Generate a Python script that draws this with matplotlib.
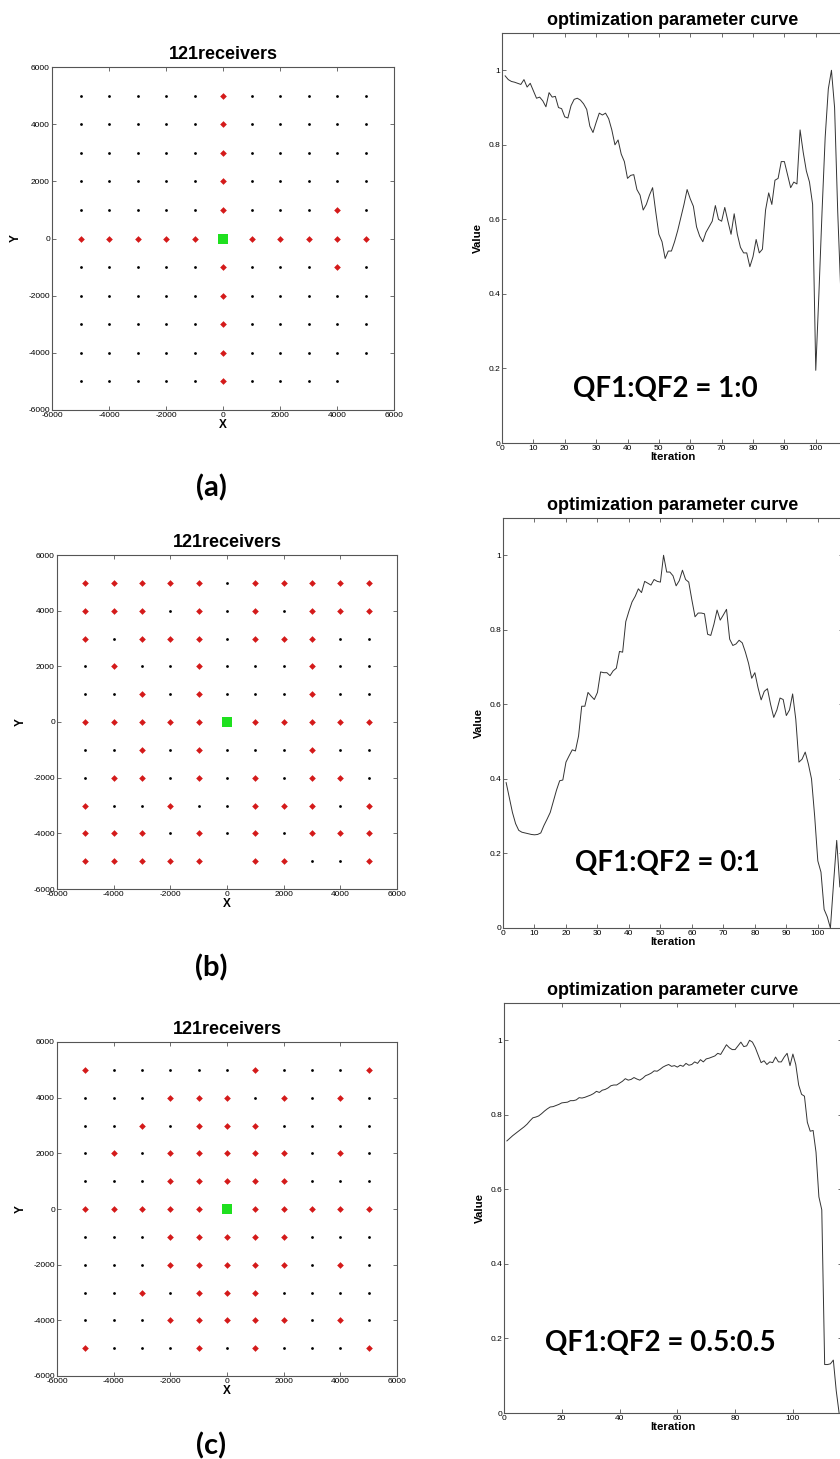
import matplotlib
matplotlib.use("Agg")
import matplotlib.pyplot as plt
import numpy as np

# ---------------- data ----------------
grid_coords = [-5000, -4000, -3000, -2000, -1000, 0, 1000, 2000, 3000, 4000, 5000]
# rows from y=5000 (top) to y=-5000 (bottom); r=selected (red), k=unselected, g=source, .=none
rows_a = ["kkkkkrkkkkk", "kkkkkrkkkkk", "kkkkkrkkkkk", "kkkkkrkkkkk", "kkkkkrkkkrk",
          "rrrrrgrrrrr", "kkkkkrkkkrk", "kkkkkrkkkkk", "kkkkkrkkkkk", "kkkkkrkkkkk",
          "kkkkkrkkkk."]
rows_b = ["rrrrrkrrrrr", "rrrkrkrkrrr", "rkrrrkrrrkk", "krkkrkkkrkk", "kkrkrkkkrkk",
          "rrrrrgrrrrr", "kkrkrkkkrkk", "krrkrkrkrrk", "rkkrkkrrrkr", "rrrkrkrkrrr",
          "rrrrr.rrkkr"]
rows_c = ["rkkkkkrkkkr", "kkkrrrkrkrk", "kkrkrrrkkkk", "krkrrrrrkrk", "kkkrrrrrkkk",
          "rrrrrgrrrrr", "kkkrrrrrkkk", "kkkrrrrrkrk", "kkrkrrrkkkk", "kkkrrrrrkrk",
          "rkkkrkrkkkr"]

curve_a = [0.985, 0.975, 0.970, 0.968, 0.965, 0.962, 0.975, 0.955, 0.965, 0.945,
           0.925, 0.928, 0.918, 0.902, 0.940, 0.928, 0.930, 0.900, 0.897, 0.875,
           0.872, 0.905, 0.922, 0.925, 0.920, 0.910, 0.895, 0.850, 0.833, 0.860,
           0.885, 0.880, 0.885, 0.870, 0.840, 0.800, 0.813, 0.775, 0.755, 0.710,
           0.718, 0.720, 0.680, 0.665, 0.625, 0.640, 0.665, 0.685, 0.620, 0.560,
           0.540, 0.495, 0.515, 0.515, 0.540, 0.570, 0.605, 0.640, 0.680, 0.655,
           0.635, 0.580, 0.555, 0.540, 0.565, 0.580, 0.595, 0.637, 0.600, 0.595,
           0.632, 0.595, 0.560, 0.615, 0.560, 0.525, 0.510, 0.510, 0.473, 0.500,
           0.546, 0.510, 0.520, 0.625, 0.671, 0.640, 0.705, 0.710, 0.755, 0.755,
           0.720, 0.685, 0.700, 0.695, 0.840, 0.780, 0.730, 0.700, 0.640, 0.195,
           0.400, 0.620, 0.820, 0.950, 1.000, 0.900, 0.620, 0.400, 0.250]
curve_b = [0.390, 0.350, 0.310, 0.280, 0.262, 0.257, 0.255, 0.253, 0.251, 0.250,
           0.251, 0.255, 0.275, 0.292, 0.310, 0.340, 0.370, 0.395, 0.397, 0.445,
           0.462, 0.478, 0.475, 0.515, 0.595, 0.595, 0.632, 0.622, 0.613, 0.632,
           0.687, 0.685, 0.685, 0.677, 0.690, 0.697, 0.742, 0.740, 0.822, 0.850,
           0.875, 0.890, 0.910, 0.900, 0.930, 0.925, 0.920, 0.935, 0.930, 0.928,
           1.000, 0.955, 0.955, 0.945, 0.918, 0.932, 0.960, 0.935, 0.928, 0.880,
           0.835, 0.845, 0.845, 0.843, 0.788, 0.785, 0.815, 0.853, 0.826, 0.840,
           0.855, 0.775, 0.758, 0.762, 0.772, 0.765, 0.740, 0.710, 0.670, 0.685,
           0.645, 0.612, 0.635, 0.642, 0.600, 0.565, 0.585, 0.617, 0.613, 0.570,
           0.585, 0.628, 0.560, 0.445, 0.453, 0.472, 0.440, 0.400, 0.300, 0.180,
           0.150, 0.050, 0.030, 0.000, 0.120, 0.235, 0.110, 0.115]
curve_c = [0.730, 0.737, 0.744, 0.750, 0.756, 0.762, 0.768, 0.775, 0.784, 0.792,
           0.794, 0.797, 0.803, 0.810, 0.816, 0.821, 0.822, 0.825, 0.828, 0.832,
           0.833, 0.834, 0.838, 0.838, 0.840, 0.846, 0.845, 0.847, 0.850, 0.853,
           0.857, 0.863, 0.860, 0.866, 0.868, 0.872, 0.878, 0.880, 0.880, 0.885,
           0.890, 0.897, 0.893, 0.895, 0.900, 0.896, 0.893, 0.898, 0.905, 0.908,
           0.912, 0.918, 0.917, 0.922, 0.928, 0.932, 0.935, 0.930, 0.932, 0.928,
           0.933, 0.930, 0.938, 0.933, 0.935, 0.942, 0.938, 0.948, 0.942, 0.950,
           0.952, 0.955, 0.958, 0.965, 0.962, 0.975, 0.988, 0.980, 0.975, 0.975,
           0.985, 0.995, 0.983, 0.985, 1.000, 0.995, 0.980, 0.960, 0.940, 0.945,
           0.935, 0.942, 0.940, 0.955, 0.942, 0.942, 0.955, 0.965, 0.932, 0.963,
           0.935, 0.880, 0.855, 0.850, 0.780, 0.756, 0.758, 0.700, 0.580, 0.545,
           0.130, 0.130, 0.132, 0.142, 0.060, 0.000]

grid_title = "121receivers"
curve_title = "optimization parameter curve"
ratio_labels = ["QF1:QF2 = 1:0", "QF1:QF2 = 0:1", "QF1:QF2 = 0.5:0.5"]
panel_labels = ["(a)", "(b)", "(c)"]
curve_xticks = [[0, 10, 20, 30, 40, 50, 60, 70, 80, 90, 100],
                [0, 10, 20, 30, 40, 50, 60, 70, 80, 90, 100],
                [0, 20, 40, 60, 80, 100]]
curve_xmax = [109, 108, 117]
value_ticks = [0, 0.2, 0.4, 0.6, 0.8, 1]
value_ticklabels = ["0", "0.2", "0.4", "0.6", "0.8", "1"]
grid_ticks = [-6000, -4000, -2000, 0, 2000, 4000, 6000]

# ---------------- layout (pixels) ----------------
W, H = 840, 1459
fig = plt.figure(figsize=(W / 100, H / 100), dpi=100)
plt.rcParams['font.family'] = ['Liberation Sans', 'DejaVu Sans']

def rect(l, t, r, b):
    return [l / W, 1 - b / H, (r - l) / W, (b - t) / H]

grid_rects = [rect(52, 67, 394, 410), rect(57, 555, 397, 889), rect(57, 1042, 397, 1376)]
curve_rects = [rect(502, 33, 844, 443), rect(503, 518, 843, 928), rect(504, 1003, 842, 1413)]
label_pos = [(211, 488), (211, 968), (211, 1446)]
ratio_pos = [(665, 389), (667, 863), (660, 1343)]

spine_col = "#555555"

def style(ax):
    for s in ax.spines.values():
        s.set_color(spine_col)
        s.set_linewidth(0.8)
    ax.tick_params(direction="in", top=True, right=True, length=3, width=0.6,
                   color=spine_col, labelsize=6, pad=1.5)

rows_all = [rows_a, rows_b, rows_c]
curves = [curve_a, curve_b, curve_c]
for i in range(3):
    ax = fig.add_axes(grid_rects[i])
    rows = rows_all[i]
    kx, ky, rx, ry, gx, gy = [], [], [], [], [], []
    for ri, row in enumerate(rows):
        y = grid_coords[::-1][ri]
        for ci, ch in enumerate(row):
            x = grid_coords[ci]
            if ch == "k":
                kx.append(x); ky.append(y)
            elif ch == "r":
                rx.append(x); ry.append(y)
            elif ch == "g":
                gx.append(x); gy.append(y)
    ax.plot(kx, ky, "o", color="black", markersize=2.0, markeredgewidth=0)
    ax.plot(rx, ry, "D", color="#d41a1a", markersize=3.4, markeredgewidth=0)
    ax.plot(gx, gy, "s", color="#1fe01f", markersize=7, markeredgewidth=0)
    ax.set_xticks(grid_ticks)
    ax.set_yticks(grid_ticks)
    ax.set_xticklabels([str(t) for t in grid_ticks])
    ax.set_yticklabels([str(t) for t in grid_ticks])
    ax.set_xlim(-6000, 6000)
    ax.set_ylim(-6000, 6000)
    style(ax)
    ax.set_title(grid_title, fontsize=13, fontweight="bold", pad=6)
    ax.set_xlabel("X", fontsize=8.5, fontweight="bold", labelpad=0)
    ax.set_ylabel("Y", fontsize=8.5, fontweight="bold", labelpad=5)

    ax2 = fig.add_axes(curve_rects[i])
    c = curves[i]
    ax2.plot(np.arange(1, len(c) + 1), c, color="#333333", linewidth=0.7)
    ax2.set_xticks(curve_xticks[i])
    ax2.set_yticks(value_ticks)
    ax2.set_yticklabels(value_ticklabels)
    ax2.set_xlim(0, curve_xmax[i])
    ax2.set_ylim(0, 1.1)
    style(ax2)
    ax2.set_title(curve_title, fontsize=13, fontweight="bold", pad=6)
    ax2.set_xlabel("Iteration", fontsize=8.2, fontweight="bold", labelpad=0)
    ax2.set_ylabel("Value", fontsize=8.2, fontweight="bold", labelpad=4)

    fig.text(ratio_pos[i][0] / W, 1 - ratio_pos[i][1] / H, ratio_labels[i],
             fontsize=20, fontweight="bold", family=["Lato", "DejaVu Sans"],
             ha="center", va="center")
    fig.text(label_pos[i][0] / W, 1 - label_pos[i][1] / H, panel_labels[i],
             fontsize=21, fontweight="bold", family=["Lato", "DejaVu Sans"],
             ha="center", va="center")

fig.savefig("out.png", dpi=100, facecolor="white")
